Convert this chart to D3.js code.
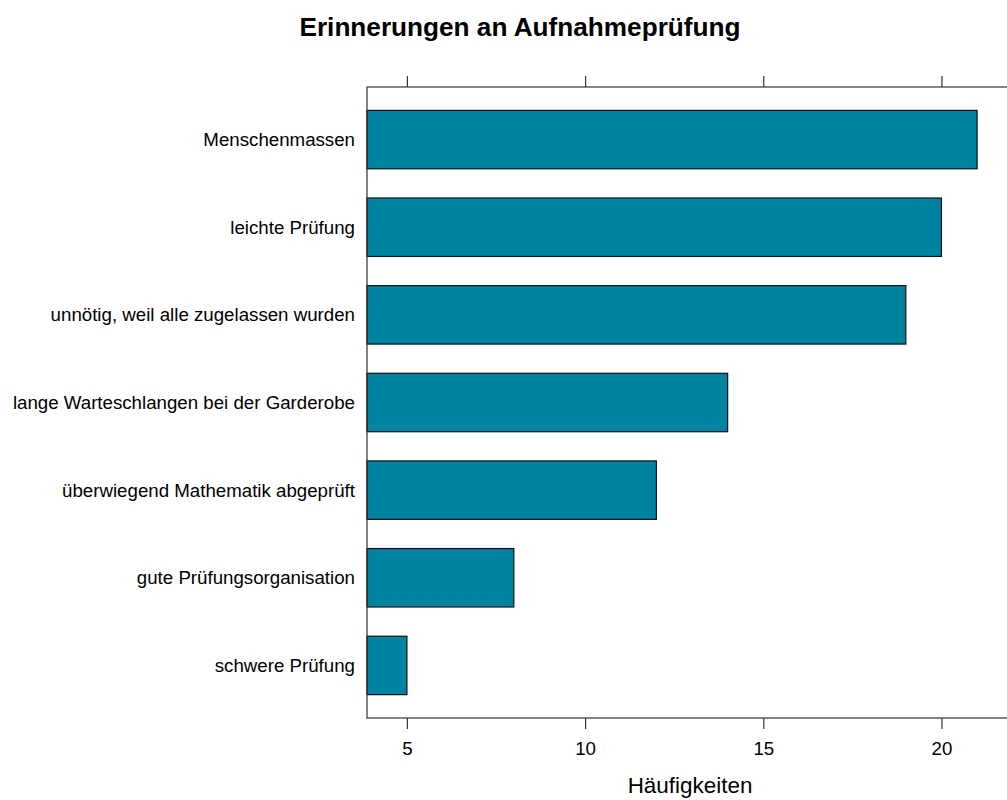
<!DOCTYPE html>
<html>
<head>
<meta charset="utf-8">
<script src="https://cdn.jsdelivr.net/npm/d3@7"></script>
<style>
body { margin: 0; background: #fff; }
text { font-family: "Liberation Sans", Arial, sans-serif; }
</style>
</head>
<body>
<div id="chart"></div>
<script>
// data, listed top to bottom as in the picture
var categories = ["Menschenmassen", "leichte Prüfung", "unnötig, weil alle zugelassen wurden",
    "lange Warteschlangen bei der Garderobe", "überwiegend Mathematik abgeprüft",
    "gute Prüfungsorganisation", "schwere Prüfung"];
var counts = [21, 20, 19, 14, 12, 8, 5];
var tickValues = [5, 10, 15, 20];

var width = 1007, height = 800;
var svg = d3.select("#chart").append("svg")
    .attr("width", width)
    .attr("height", height);

var panelLeft = 367, panelRight = 1017, panelTop = 87, panelBottom = 718;
var baseFont = 18.7;

// lattice style: range extended by 7%
var lo = d3.min(counts), hi = d3.max(counts);
var pad = (hi - lo) * 0.07;
var x = d3.scaleLinear().domain([lo - pad, hi + pad]).range([panelLeft, panelRight]);

// factor positions 1..n, limits 0.4 .. n+0.6
var n = categories.length;
var y = d3.scaleLinear().domain([0.4, n + 0.6]).range([panelTop, panelBottom]);
var barH = (y(1) - y(0)) * 2 / 3;

// bars
svg.selectAll("rect.bar")
    .data(counts)
    .enter()
    .append("rect")
    .attr("class", "bar")
    .attr("x", x(lo - pad))
    .attr("y", function(d, i) { return y(i + 1) - barH / 2; })
    .attr("width", function(d) { return x(d) - x(lo - pad); })
    .attr("height", barH)
    .attr("fill", "#0082a1")
    .attr("stroke", "#111")
    .attr("stroke-width", 1.2);

// panel border
svg.append("rect")
    .attr("x", panelLeft)
    .attr("y", panelTop)
    .attr("width", panelRight - panelLeft)
    .attr("height", panelBottom - panelTop)
    .attr("fill", "none")
    .attr("stroke", "#333")
    .attr("stroke-width", 1.2);

// bottom axis
var xAxisB = d3.axisBottom(x).tickValues(tickValues).tickSize(11).tickPadding(13).tickSizeOuter(0);
var gb = svg.append("g").attr("transform", "translate(0," + panelBottom + ")").call(xAxisB);
gb.select(".domain").remove();
gb.selectAll("line").attr("stroke", "#333").attr("stroke-width", 1.2);
gb.selectAll("text").attr("font-size", baseFont + "px").attr("fill", "#000")
    .style("font-family", "Liberation Sans, Arial, sans-serif");

// top ticks, no labels
var xAxisT = d3.axisTop(x).tickValues(tickValues).tickSize(11).tickFormat("").tickSizeOuter(0);
var gt = svg.append("g").attr("transform", "translate(0," + panelTop + ")").call(xAxisT);
gt.select(".domain").remove();
gt.selectAll("line").attr("stroke", "#333").attr("stroke-width", 1.2);

// category labels
svg.selectAll("text.cat")
    .data(categories)
    .enter()
    .append("text")
    .attr("class", "cat")
    .attr("x", 355)
    .attr("y", function(d, i) { return y(i + 1); })
    .attr("dy", "0.35em")
    .attr("text-anchor", "end")
    .attr("font-size", baseFont + "px")
    .text(function(d) { return d; });

// title
svg.append("text")
    .attr("x", 520)
    .attr("y", 36)
    .attr("text-anchor", "middle")
    .attr("font-size", (baseFont * 1.4) + "px")
    .attr("font-weight", "bold")
    .text("Erinnerungen an Aufnahmeprüfung");

// x label
svg.append("text")
    .attr("x", (panelLeft + panelRight) / 2 - 2)
    .attr("y", 793)
    .attr("text-anchor", "middle")
    .attr("font-size", (baseFont * 1.2) + "px")
    .text("Häufigkeiten");
</script>
</body>
</html>
